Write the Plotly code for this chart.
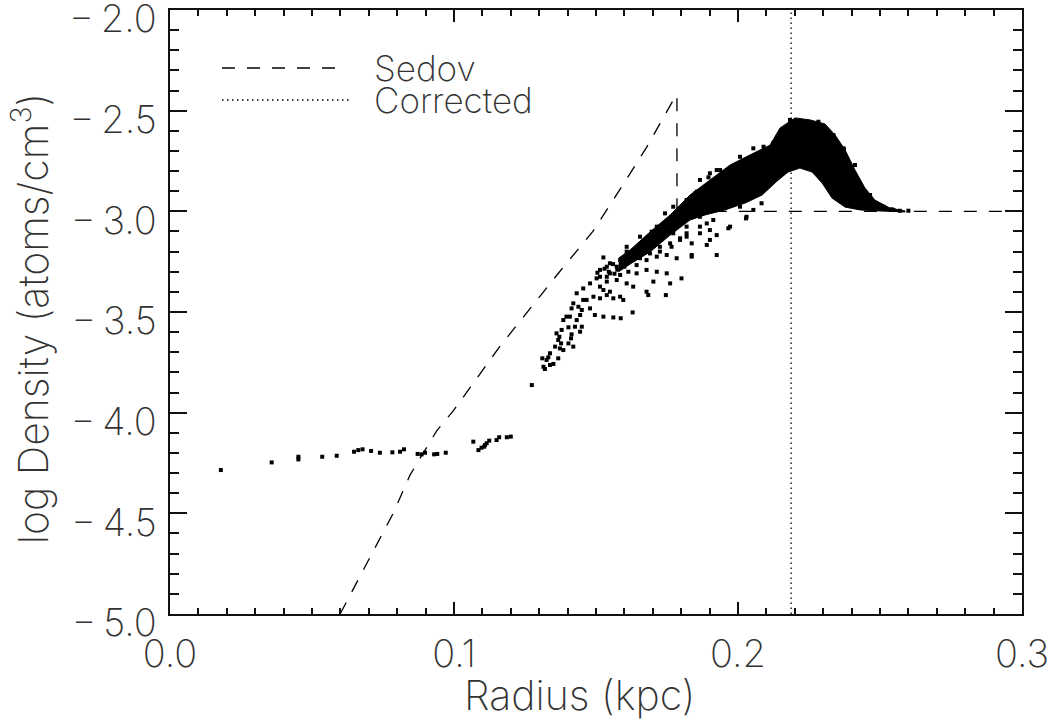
import plotly.graph_objects as go

# ---------------- data ----------------
# Sedov analytic profile (dashed)
sedov_x = [0.0599, 0.0786, 0.0845, 0.0892, 0.0939, 0.0998, 0.1162, 0.1366, 0.1489,
           0.1585, 0.1679, 0.1771, 0.1785, 0.1785, 0.3000]
sedov_y = [-5.00, -4.50, -4.31, -4.20, -4.09, -3.99, -3.67, -3.31, -3.10,
           -2.89, -2.68, -2.45, -2.42, -3.00, -3.00]

# corrected shock radius (dotted vertical)
corrected_r = 0.2187
corrected_y = [-5.0, -2.0]

# dense core of particle cloud (outline: upper edge, then lower edge back)
core_x = [0.1580, 0.1620, 0.1690, 0.1761, 0.1831, 0.1901, 0.1972, 0.2042, 0.2113, 0.2148,
          0.2201, 0.2254, 0.2306, 0.2342, 0.2377, 0.2412, 0.2447, 0.2482, 0.2535, 0.2588,
          0.2588, 0.2500, 0.2430, 0.2377, 0.2331, 0.2296, 0.2261, 0.2218, 0.2176, 0.2134,
          0.2085, 0.2025, 0.1954, 0.1884, 0.1831, 0.1761, 0.1690, 0.1620, 0.1580]
core_y = [-3.232, -3.192, -3.103, -3.018, -2.919, -2.844, -2.770, -2.720, -2.671, -2.586,
          -2.536, -2.546, -2.566, -2.621, -2.695, -2.795, -2.884, -2.944, -2.984, -2.998,
          -3.003, -2.998, -2.993, -2.979, -2.934, -2.859, -2.805, -2.785, -2.805, -2.854,
          -2.919, -2.959, -2.993, -3.018, -3.043, -3.118, -3.202, -3.262, -3.300]

# individual particles around the dense core
part_x = [0.0179, 0.0358, 0.0452, 0.0452, 0.0536, 0.0587, 0.0648, 0.0663, 0.0678, 0.0708,
          0.0739, 0.0783, 0.0810, 0.0824, 0.0872, 0.0886, 0.0898, 0.0930, 0.0941, 0.0971,
          0.1068, 0.1086, 0.1097, 0.1106, 0.1115, 0.1124, 0.1109, 0.1150, 0.1159, 0.1186,
          0.1200,
          0.1274, 0.1315, 0.1320, 0.1338, 0.1350, 0.1311, 0.1332, 0.1367, 0.1373, 0.1385,
          0.1420, 0.1403, 0.1377, 0.1412, 0.1371, 0.1414, 0.1444, 0.1450, 0.1379, 0.1403,
          0.1426, 0.1408, 0.1432, 0.1444, 0.1414, 0.1450, 0.1479, 0.1496, 0.1526, 0.1561,
          0.1587, 0.1629, 0.1455, 0.1491, 0.1514, 0.1538, 0.1561, 0.1596, 0.1585, 0.1526,
          0.1549, 0.1514, 0.1538, 0.1573, 0.1608, 0.1631, 0.1678, 0.1684, 0.1746, 0.1702,
          0.1761, 0.1514, 0.1549, 0.1585, 0.1614, 0.1643, 0.1678, 0.1714, 0.1749, 0.1801,
          0.1608, 0.1643, 0.1678, 0.1714, 0.1749, 0.1784, 0.1837, 0.1925, 0.1526, 0.1608,
          0.1655, 0.1690, 0.1725, 0.1761, 0.1796, 0.1819, 0.1866, 0.1890, 0.1696, 0.1772,
          0.1837, 0.1890, 0.1901, 0.1925, 0.1966,
          0.1896, 0.1925, 0.1972, 0.1984, 0.1855, 0.1837, 0.2030, 0.1972, 0.2054,
          0.2028, 0.2083, 0.2371, 0.2412, 0.2412, 0.2465, 0.2471, 0.2541, 0.2406, 0.2336,
          0.2283, 0.2377, 0.2394, 0.2359, 0.2547, 0.2570, 0.2600,
          0.1849, 0.1866, 0.1901, 0.1937, 0.2007, 0.2054, 0.2090, 0.2030, 0.2077, 0.2124,
          0.1984, 0.2007, 0.1937, 0.1890, 0.1866, 0.1913, 0.1819, 0.1772, 0.1725, 0.1679,
          0.1631, 0.1585, 0.1538, 0.1608, 0.1655, 0.1749, 0.1796, 0.1843, 0.1714, 0.1743,
          0.1819, 0.1772, 0.1866, 0.1925, 0.1890,
          0.1549, 0.1573, 0.1626, 0.1655, 0.1690, 0.1725, 0.1766, 0.1796, 0.1819, 0.1866,
          0.1901, 0.1502, 0.1479, 0.1455, 0.1432, 0.1514, 0.1538, 0.1467, 0.1420, 0.1438,
          0.1396, 0.1385, 0.1361, 0.1367, 0.1356, 0.1338, 0.1326,
          0.2300, 0.2324, 0.2347, 0.2359, 0.2383, 0.2394, 0.2430, 0.2453, 0.2488, 0.2512,
          0.2373, 0.2148, 0.2136, 0.2171, 0.2218, 0.2254, 0.2277, 0.2054, 0.2101, 0.2042,
          0.2183, 0.2124,
          0.1560, 0.1575, 0.1595, 0.1545, 0.1530, 0.1620, 0.1640, 0.1600, 0.1565, 0.1505]
part_y = [-4.285, -4.247, -4.219, -4.232, -4.219, -4.214, -4.194, -4.186, -4.182, -4.190,
          -4.199, -4.197, -4.194, -4.182, -4.205, -4.207, -4.199, -4.207, -4.205, -4.199,
          -4.144, -4.186, -4.174, -4.169, -4.152, -4.139, -4.161, -4.136, -4.122, -4.122,
          -4.119,
          -3.863, -3.772, -3.783, -3.763, -3.758, -3.730, -3.725, -3.730, -3.681, -3.689,
          -3.672, -3.656, -3.656, -3.631, -3.623, -3.611, -3.598, -3.573, -3.589, -3.576,
          -3.573, -3.523, -3.540, -3.515, -3.482, -3.490, -3.482, -3.515, -3.523, -3.527,
          -3.531, -3.502, -3.440, -3.424, -3.432, -3.416, -3.432, -3.440, -3.424, -3.391,
          -3.399, -3.374, -3.349, -3.341, -3.358, -3.374, -3.399, -3.416, -3.416, -3.349,
          -3.358, -3.291, -3.308, -3.316, -3.300, -3.308, -3.291, -3.300, -3.308, -3.333,
          -3.258, -3.267, -3.242, -3.225, -3.217, -3.233, -3.225, -3.217, -3.229, -3.200,
          -3.200, -3.184, -3.176, -3.159, -3.134, -3.109, -3.076, -3.060, -3.101, -3.076,
          -3.159, -3.167, -3.142, -3.118, -3.084,
          -2.831, -2.795, -2.786, -2.828, -2.902, -3.217, -3.027, -3.076, -2.993,
          -3.035, -2.960, -2.687, -2.770, -2.836, -2.919, -2.960, -2.990, -2.877, -2.621,
          -2.555, -2.737, -2.795, -2.754, -2.993, -2.997, -2.997,
          -2.911, -2.844, -2.811, -2.795, -2.729, -2.687, -2.679, -2.844, -2.894, -2.844,
          -2.944, -2.977, -2.977, -2.985, -3.027, -3.043, -3.076, -3.109, -3.142, -3.176,
          -3.209, -3.242, -3.275, -3.176, -3.126, -3.060, -3.027, -2.977, -3.076, -3.010,
          -2.944, -2.977, -2.911, -2.894, -2.877,
          -3.258, -3.275, -3.242, -3.233, -3.209, -3.200, -3.176, -3.142, -3.126, -3.109,
          -3.093, -3.333, -3.358, -3.383, -3.407, -3.325, -3.325, -3.440, -3.457, -3.474,
          -3.523, -3.540, -3.606, -3.639, -3.672, -3.705, -3.738,
          -2.646, -2.679, -2.712, -2.778, -2.828, -2.894, -2.927, -2.944, -2.969, -2.977,
          -2.692, -2.646, -2.729, -2.745, -2.729, -2.745, -2.778, -2.811, -2.844, -2.894,
          -2.546, -2.662,
          -3.262, -3.290, -3.250, -3.300, -3.285, -3.225, -3.205, -3.275, -3.310, -3.305]

x_tick_vals = [0.0, 0.1, 0.2, 0.3]
x_tick_text = ["0.0", "0.1", "0.2", "0.3"]
y_tick_vals = [-5.0, -4.5, -4.0, -3.5, -3.0, -2.5, -2.0]
y_tick_text = ["\u2212\u20095.0", "\u2212\u20094.5", "\u2212\u20094.0", "\u2212\u20093.5",
               "\u2212\u20093.0", "\u2212\u20092.5", "\u2212\u20092.0"]

legend_labels = ["Sedov", "Corrected"]
x_title = "Radius (kpc)"
y_title = "log Density (atoms/cm<sup>3</sup>)"

# ---------------- figure ----------------
FAM = "Inter, DejaVu Sans, sans-serif"
TICKFONT = dict(family=FAM, size=38, color="#333333", weight=250)
TITLEFONT = dict(family=FAM, size=41, color="#333333", weight=250)
LEGFONT = dict(family=FAM, size=35, color="#333333", weight=250)
INK = "#111111"

fig = go.Figure()

fig.add_trace(go.Scatter(x=core_x, y=core_y, mode="lines", fill="toself",
                         fillcolor="black", line=dict(color="black", width=1),
                         hoverinfo="skip", showlegend=False))
fig.add_trace(go.Scatter(x=part_x, y=part_y, mode="markers",
                         marker=dict(symbol="square", size=4, color="black",
                                     line=dict(width=0)),
                         showlegend=False))
fig.add_trace(go.Scatter(x=sedov_x, y=sedov_y, mode="lines",
                         line=dict(color="black", width=1.3, dash="13px,12px"),
                         showlegend=False))
fig.add_trace(go.Scatter(x=[corrected_r, corrected_r], y=corrected_y, mode="lines",
                         line=dict(color="black", width=1.3, dash="1.5px,3.5px"),
                         showlegend=False))

axis_common = dict(showgrid=False, zeroline=False, showline=True, linecolor=INK,
                   linewidth=1.5, mirror="ticks", ticks="inside", tickcolor=INK,
                   tickwidth=1.5, tickfont=TICKFONT, ticklabeloverflow="allow",
                   automargin=False)

fig.update_xaxes(range=[0.0, 0.3], tickvals=x_tick_vals, ticktext=x_tick_text,
                 ticklen=12, ticklabelstandoff=6,
                 minor=dict(dtick=0.01, ticklen=6, ticks="inside", tickcolor=INK,
                            tickwidth=1.5),
                 **axis_common)
fig.update_yaxes(range=[-5.0, -2.0], tickvals=y_tick_vals, ticktext=y_tick_text,
                 ticklen=17, ticklabelstandoff=4, ticklabelshift=9,
                 minor=dict(tick0=-5.0, dtick=0.1, ticklen=9, ticks="inside",
                            tickcolor=INK, tickwidth=1.5),
                 **axis_common)

# axis titles
fig.add_annotation(text=x_title, xref="paper", yref="paper", x=0.481, y=-0.089,
                   xanchor="center", yanchor="top", showarrow=False, font=TITLEFONT)
fig.add_annotation(text=y_title, xref="paper", yref="paper", x=-0.1643, y=0.488,
                   xanchor="center", yanchor="middle", textangle=-90, showarrow=False,
                   font=TITLEFONT)

# legend drawn as shapes + text
fig.add_shape(type="line", xref="paper", yref="paper", x0=0.061, x1=0.1995, y0=0.904, y1=0.904,
              line=dict(color="black", width=1.3, dash="13px,12px"))
fig.add_shape(type="line", xref="paper", yref="paper", x0=0.061, x1=0.211, y0=0.851, y1=0.851,
              line=dict(color="black", width=1.3, dash="1.5px,3.5px"))
for lab, yy in zip(legend_labels, [0.904, 0.851]):
    fig.add_annotation(text=lab, xref="paper", yref="paper", x=0.237, y=yy,
                       xanchor="left", yanchor="middle", showarrow=False, font=LEGFONT)

fig.update_layout(width=1060, height=720, plot_bgcolor="white", paper_bgcolor="white",
                  margin=dict(l=170, r=38, t=10, b=106, autoexpand=False), showlegend=False)

fig.write_html("out.html")
